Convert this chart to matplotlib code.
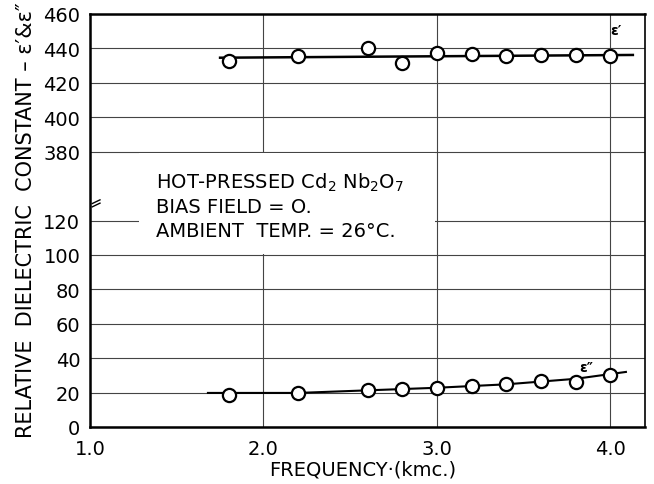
import matplotlib
matplotlib.use("Agg")
import matplotlib.pyplot as plt
from matplotlib.patches import Rectangle

# ---------------------------------------------------------------------------
# Data (frequency in kmc., relative dielectric constant)
# ---------------------------------------------------------------------------
freq = [1.8, 2.2, 2.6, 2.8, 3.0, 3.2, 3.4, 3.6, 3.8, 4.0]
eps_real = [432.5, 435.8, 440.0, 431.7, 437.5, 437.0, 435.6, 436.2, 436.2, 435.8]
eps_imag = [18.8, 19.8, 21.7, 22.1, 22.5, 24.0, 24.8, 26.9, 26.0, 30.4]

# hand-drawn fit curves
fit_real_x = [1.75, 4.13]
fit_real_y = [434.6, 436.2]
fit_imag_x = [1.68, 2.2, 2.6, 3.0, 3.4, 3.8, 4.09]
fit_imag_y = [19.8, 19.8, 21.3, 22.8, 24.8, 28.0, 32.0]

x_ticks = [1.0, 2.0, 3.0, 4.0]
x_tick_labels = ["1.0", "2.0", "3.0", "4.0"]
y_ticks_low = [0, 20, 40, 60, 80, 100, 120]
y_ticks_high = [380, 400, 420, 440, 460]

BREAK_SHIFT = 220  # 380 is drawn where 160 would be


def to_plot(values):
    """Map real values onto the broken axis."""
    return [v - BREAK_SHIFT if v >= 300 else v for v in values]


fig = plt.figure(figsize=(6.54, 4.85), dpi=100)
ax = fig.add_axes([90 / 654, 1 - 428 / 485, 555 / 654, 413 / 485])

ax.set_xlim(1.0, 4.2)
ax.set_ylim(0, 240)

yt = y_ticks_low + to_plot(y_ticks_high)
ax.set_yticks(yt)
ax.set_yticklabels([str(v) for v in y_ticks_low + y_ticks_high])
ax.set_xticks(x_ticks)
ax.set_xticklabels(x_tick_labels)
ax.tick_params(length=0, labelsize=14, pad=7)
ax.tick_params(axis="x", pad=9)

ax.grid(True, color="#444444", lw=0.8)
ax.set_axisbelow(True)

for side in ["left", "top", "bottom"]:
    ax.spines[side].set_linewidth(1.8)
ax.spines["right"].set_linewidth(1.2)

# blank area behind the note
ax.add_patch(Rectangle((1.28, 100.8), 1.71, 58.4, facecolor="white",
                       edgecolor="none", zorder=1))

ax.plot(fit_real_x, to_plot(fit_real_y), color="black", lw=1.8, zorder=2)
ax.plot(fit_imag_x, fit_imag_y, color="black", lw=1.5, zorder=2)
ax.plot(freq, to_plot(eps_real), "o", ms=9.5, mfc="white", mec="black",
        mew=1.6, zorder=3)
ax.plot(freq, eps_imag, "o", ms=9.5, mfc="white", mec="black",
        mew=1.6, zorder=3)

ax.text(4.03, to_plot([450.5])[0], "ε′", fontsize=10, fontweight="bold",
        ha="center", va="center")
ax.text(3.86, 35.0, "ε″", fontsize=10, fontweight="bold",
        ha="center", va="center")

note = ["HOT-PRESSED Cd$_2$ Nb$_2$O$_7$",
        "BIAS FIELD = O.",
        "AMBIENT  TEMP. = 26°C."]
for i, line in enumerate(note):
    ax.text(1.38, 142.4 - 14.2 * i, line, fontsize=14, ha="left",
            va="center", zorder=4)

# axis break mark on the left spine
ax.plot([0.004, 0.018], [0.541, 0.550], transform=ax.transAxes, color="black",
        lw=1.0, clip_on=False)
ax.plot([0.004, 0.018], [0.533, 0.542], transform=ax.transAxes, color="black",
        lw=1.0, clip_on=False)

fig.text(26 / 654, 1 - 220 / 485, "RELATIVE  DIELECTRIC  CONSTANT – ε′&ε″",
         rotation=90, fontsize=15, ha="center", va="center")
fig.text(363 / 654, 1 - 470 / 485, "FREQUENCY·(kmc.)", fontsize=14,
         ha="center", va="center")

fig.savefig("out.png", dpi=100)
